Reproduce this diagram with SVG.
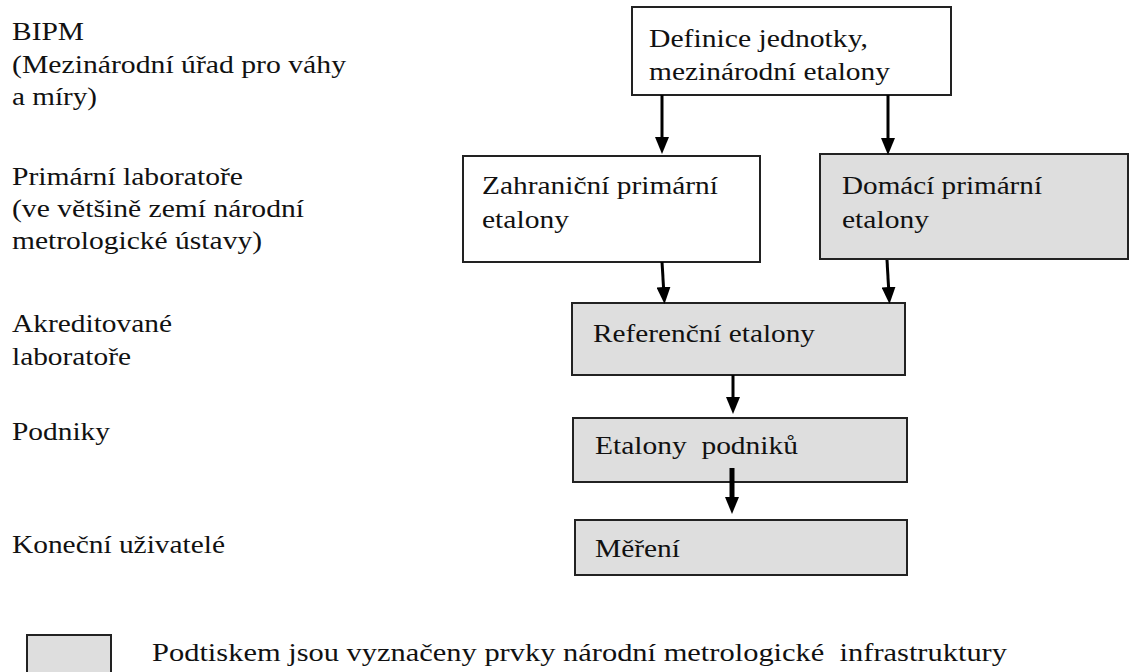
<svg xmlns="http://www.w3.org/2000/svg" width="1132" height="672" viewBox="0 0 1132 672">
<style>
  text { font-size: 26px; fill: #111; white-space: pre; }
  .box { stroke: #222; stroke-width: 2; }
  .white { fill: #ffffff; }
  .gray { fill: #dedede; }
  .conn { stroke: #000; stroke-width: 3; fill: none; marker-end: url(#arrow); }
</style>
<defs>
  <marker id="arrow" viewBox="0 0 17 14" markerWidth="17" markerHeight="14" refX="8" refY="7" orient="auto" markerUnits="userSpaceOnUse">
    <path d="M0,0 L17,7 L0,14 z" fill="#000"/>
  </marker>
</defs>
<rect width="1132" height="672" fill="#fff"/>

<g id="levels">
  <text font-family="Liberation Serif" x="12" y="40" textLength="72" lengthAdjust="spacingAndGlyphs">BIPM</text>
  <text font-family="Liberation Serif" x="12" y="73" textLength="334" lengthAdjust="spacingAndGlyphs">(Mezinárodní úřad pro váhy</text>
  <text font-family="Liberation Serif" x="12" y="105" textLength="85" lengthAdjust="spacingAndGlyphs">a míry)</text>
  <text font-family="Liberation Serif" x="12" y="185" textLength="231" lengthAdjust="spacingAndGlyphs">Primární laboratoře</text>
  <text font-family="Liberation Serif" x="12" y="217" textLength="292" lengthAdjust="spacingAndGlyphs">(ve většině zemí národní</text>
  <text font-family="Liberation Serif" x="12" y="249" textLength="250" lengthAdjust="spacingAndGlyphs">metrologické ústavy)</text>
  <text font-family="Liberation Serif" x="12" y="332" textLength="160" lengthAdjust="spacingAndGlyphs">Akreditované</text>
  <text font-family="Liberation Serif" x="12" y="365" textLength="119" lengthAdjust="spacingAndGlyphs">laboratoře</text>
  <text font-family="Liberation Serif" x="12" y="440" textLength="98" lengthAdjust="spacingAndGlyphs">Podniky</text>
  <text font-family="Liberation Serif" x="12" y="553" textLength="213" lengthAdjust="spacingAndGlyphs">Koneční uživatelé</text>
</g>

<g id="definice">
  <rect class="box white" x="632" y="7" width="319" height="88"/>
  <text font-family="Liberation Serif" x="649" y="47" textLength="219" lengthAdjust="spacingAndGlyphs">Definice jednotky,</text>
  <text font-family="Liberation Serif" x="649" y="80" textLength="241" lengthAdjust="spacingAndGlyphs">mezinárodní etalony</text>
</g>

<g id="zahranicni">
  <rect class="box white" x="463" y="156" width="297" height="106"/>
  <text font-family="Liberation Serif" x="482" y="194" textLength="236" lengthAdjust="spacingAndGlyphs">Zahraniční primární</text>
  <text font-family="Liberation Serif" x="482" y="228" textLength="87" lengthAdjust="spacingAndGlyphs">etalony</text>
</g>

<g id="domaci">
  <rect class="box gray" x="820" y="154" width="308" height="105"/>
  <text font-family="Liberation Serif" x="842" y="194" textLength="200" lengthAdjust="spacingAndGlyphs">Domácí primární</text>
  <text font-family="Liberation Serif" x="842" y="228" textLength="87" lengthAdjust="spacingAndGlyphs">etalony</text>
</g>

<g id="referencni">
  <rect class="box gray" x="572" y="303" width="333" height="72"/>
  <text font-family="Liberation Serif" x="593" y="342" textLength="222" lengthAdjust="spacingAndGlyphs">Referenční etalony</text>
</g>

<g id="podniku">
  <rect class="box gray" x="573" y="418" width="334" height="64"/>
  <text font-family="Liberation Serif" x="595" y="454" textLength="203" lengthAdjust="spacingAndGlyphs">Etalony  podniků</text>
</g>

<g id="mereni">
  <rect class="box gray" x="575" y="520" width="332" height="55"/>
  <text font-family="Liberation Serif" x="595" y="557" textLength="85" lengthAdjust="spacingAndGlyphs">Měření</text>
</g>

<g id="legend">
  <rect class="box gray" x="27" y="635" width="84" height="45"/>
  <text font-family="Liberation Serif" x="152" y="661" textLength="855" lengthAdjust="spacingAndGlyphs">Podtiskem jsou vyznačeny prvky národní metrologické  infrastruktury</text>
</g>

<g id="connectors">
  <path class="conn" d="M662,95 L662,145"/>
  <path class="conn" d="M888,95 L888,146"/>
  <path class="conn" d="M662,262 L664,295"/>
  <path class="conn" d="M887,260 L889,295"/>
  <path class="conn" d="M733,375 L733,405"/>
  <path class="conn" d="M732,468 L732,505" style="stroke-width:5"/>
</g>
</svg>
